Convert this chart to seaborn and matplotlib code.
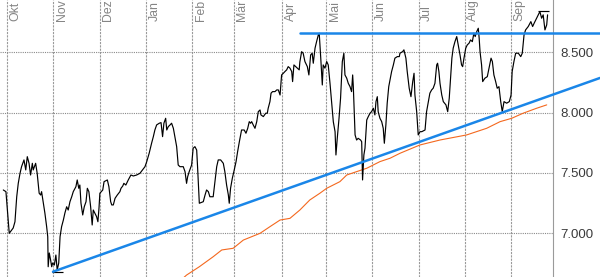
import matplotlib
matplotlib.use("Agg")
import matplotlib.pyplot as plt
import seaborn as sns
import pandas as pd

# ---------------- data (trading-day index since 1 Oct, index level) ----------------
day = [-1.8, -0.6, 0.9, 2.7, 3.5, 4.3, 5.0, 5.8, 6.5, 7.6, 8.4, 9.1, 9.9, 10.6, 11.4, 11.8,
       12.9, 13.6, 14.5, 15.2, 15.6, 16.4, 17.1, 17.9, 18.4, 18.6, 19.1, 19.7, 20.2, 20.6,
       21.4, 22.1, 22.7, 23.4, 24.0, 24.7, 25.5, 26.2, 27.0, 27.7, 28.5, 29.3, 30.0, 31.2,
       31.8, 32.5, 33.0, 33.5, 34.3, 35.0, 35.8, 36.4, 37.1, 37.9, 38.6, 39.1, 40.6, 41.2,
       41.7, 42.1,
       43.4, 44.0, 45.5, 46.2, 47.0, 47.5, 48.2, 49.0, 50.0, 51.2, 51.7, 52.5, 53.0, 53.9,
       55.0, 56.2, 57.3, 58.8, 60.3, 61.5, 62.6, 63.4, 64.5, 65.6, 66.4, 67.1, 67.9, 69.1,
       69.9, 70.6, 71.2, 72.0, 72.5, 73.2, 74.0, 74.7, 75.5, 76.2, 77.0, 77.7, 78.5, 80.0,
       80.8, 81.5, 82.0, 82.7, 83.8, 84.5, 85.3, 86.1, 86.5, 87.3,
       89.1, 89.9, 90.6, 91.4, 92.1, 93.6, 94.4, 95.2, 95.9, 97.0, 98.2, 98.9, 99.7, 100.5,
       100.9, 101.5, 102.3, 103.0, 104.0, 104.7, 105.5, 106.1, 106.5, 107.7, 108.5, 109.3,
       110.0, 110.6, 111.1, 111.8, 112.6, 113.4, 114.1, 114.9, 115.3, 116.4, 117.5, 118.2,
       118.6, 119.4, 119.9, 120.6, 121.7, 122.5, 123.2, 124.0, 124.7, 125.5, 126.2, 127.0,
       127.7, 128.5, 129.3, 129.7, 130.3, 131.1, 131.8, 132.7,
       133.0, 133.8, 134.5, 135.3, 136.4, 137.1, 137.9, 138.6, 139.1, 139.9, 140.6, 141.4,
       141.8, 142.5, 143.2, 143.6, 144.4, 145.2, 145.9, 146.7, 147.5, 148.2, 149.0, 149.4,
       150.0, 150.8, 151.5, 152.3, 153.0, 153.5, 154.3, 155.0, 155.8, 156.5, 157.0, 157.3,
       158.1, 158.8, 159.5, 160.6, 161.1, 161.5, 162.1, 162.6, 163.4, 164.1, 164.9, 165.6,
       166.4, 167.1, 167.6, 168.2, 168.6, 169.4, 170.2, 170.9, 171.4, 172.1, 172.7, 173.4,
       174.0, 174.7, 175.5, 176.2, 177.3, 178.2,
       178.5, 179.7, 180.3, 181.2, 181.8, 182.7, 183.5, 184.3, 184.9, 185.3, 186.1, 186.8,
       187.6, 188.4, 189.9, 190.6, 191.4, 192.1, 192.9, 193.6, 194.4, 195.2, 195.6, 196.2,
       196.7, 197.5, 198.2, 199.4, 200.2, 200.9, 201.5, 202.1, 202.7, 203.5, 204.3, 205.0,
       205.8, 206.5, 207.0, 207.6, 208.4, 209.1, 209.9, 210.6, 211.4, 212.1, 212.7, 213.4,
       214.1, 214.5, 214.9,
       215.6, 216.1, 217.1, 218.2, 219.1, 219.9, 220.5, 221.2, 222.0, 222.7, 223.5, 224.3,
       225.0, 225.8, 227.0, 228.2, 229.0, 229.5, 230.3, 231.1, 232.3, 233.4, 234.1, 234.9,
       235.6, 236.8, 238.0, 238.8, 239.5, 240.6, 242.1, 242.9, 243.6, 244.4, 245.2, 245.6]

close = [7359, 7345, 7000, 7044, 7096, 7303, 7414, 7497, 7552, 7608, 7525, 7635, 7580, 7483, 7580, 7525,
         7580, 7497, 7332, 7317, 7345, 7251, 7168, 7055, 6972, 6723, 6837, 6779, 6723, 6754,
         6737, 6820, 6696, 6754, 6972, 7055, 7110, 7168, 7220, 7193, 7262, 7303, 7345, 7386,
         7442, 7373, 7400, 7251, 7152, 7220, 7262, 7373, 7345, 7220, 7069, 7193, 7138, 7096,
         7210, 7332,
         7359, 7428, 7442, 7386, 7262, 7235, 7235, 7290, 7317, 7345, 7373, 7392, 7414, 7400,
         7442, 7483, 7475, 7483, 7497, 7525, 7552, 7594, 7663, 7746, 7801, 7856, 7898, 7912,
         7917, 7801, 7912, 7953, 7856, 7884, 7898, 7912, 7870, 7801, 7718, 7566, 7552, 7552,
         7511, 7414, 7469, 7511, 7566, 7705, 7718, 7690, 7552, 7249,
         7262, 7317, 7359, 7345, 7303, 7303, 7428, 7552, 7608, 7608, 7580, 7511, 7400, 7317,
         7249, 7373, 7456, 7511, 7594, 7676, 7759, 7815, 7856, 7856, 7829, 7870,
         7925, 7912, 7925, 7898, 7870, 7925, 8008, 8022, 7981, 7967, 7995, 7995,
         8036, 8091, 8161, 8174, 8174, 8188, 8188, 8146, 8312, 8326, 8340, 8354,
         8381, 8368, 8340, 8257, 8395, 8381, 8368, 8354,
         8420, 8505, 8492, 8423, 8381, 8312, 8478, 8492, 8409, 8534, 8588, 8644,
         8658, 8451, 8229, 8395, 8368, 8423, 8395, 8243, 8078, 7925, 7842, 7649,
         7787, 7953, 8119, 8423, 8492, 8312, 8285, 8243, 8215, 8174, 8312, 8215,
         7815, 7773, 7787, 7773, 7759, 7442, 7649, 7705, 7939, 7967, 7995, 8008,
         8036, 7981, 8091, 8132, 8008, 7953, 7925, 7870, 7746, 7898, 8078, 8215,
         8271, 8340, 8395, 8451, 8464, 8464,
         8492, 8505, 8520, 8451, 8340, 8202, 8132, 8257, 8326, 8146, 8008, 7815,
         7842, 7842, 7856, 8008, 8091, 8161, 8188, 8202, 8243, 8395, 8409, 8340,
         8243, 8146, 8091, 8064, 8008, 8119, 8285, 8451, 8534, 8588, 8630, 8561,
         8478, 8395, 8381, 8451, 8534, 8561, 8575, 8602, 8588, 8658, 8630, 8671,
         8699, 8617, 8505,
         8395, 8257, 8285, 8298, 8381, 8451, 8423, 8312, 8257, 8202, 8215, 8091,
         8008, 8091, 8078, 8091, 8146, 8340, 8423, 8492, 8492, 8464, 8492, 8644,
         8685, 8713, 8754, 8713, 8741, 8782, 8837, 8782, 8810, 8685, 8727, 8810]

ma_day = [78.5, 81.5, 87.3, 93.6, 97.5, 102.7, 107.3, 114.9, 119.4, 124.0, 128.5, 133.0,
          137.5, 142.1, 145.2, 151.2, 154.3, 158.8, 163.4, 169.4, 174.0, 178.5, 187.6,
          196.7, 208.8, 217.9, 224.0, 229.3, 234.5, 240.6, 245.2]
ma_val = [6605, 6654, 6723, 6806, 6862, 6876, 6944, 7000, 7055, 7110, 7124, 7193,
          7276, 7332, 7373, 7428, 7483, 7511, 7539, 7594, 7622, 7663, 7732,
          7773, 7815, 7870, 7925, 7953, 7995, 8036, 8064]

trend_day = [20.8, 269.4]
trend_val = [6682, 8287]
resist_day = [133.2, 269.4]
resist_val = [8663, 8663]

extreme_start = [20.2, 241.3]
extreme_end = [25.5, 246.2]
extreme_val = [6677, 8839]

month_pos = [0, 21, 42, 63, 84, 103, 125, 145, 166, 187, 208, 229]
month_lbl = ["Okt", "Nov", "Dez", "Jan", "Feb", "Mär", "Apr", "Mai", "Jun", "Jul", "Aug", "Sep"]
ytick_vals = [7000, 7500, 8000, 8500]
ytick_lbl = ["7.000", "7.500", "8.000", "8.500"]

# ---------------- plotting ----------------
sns.set_style("white")
plt.rcParams["font.family"] = ["Liberation Sans", "DejaVu Sans"]

fig = plt.figure(figsize=(6.0, 2.77), dpi=100)
ax = fig.add_axes([0, 0, 553.3 / 600, 1])

df = pd.DataFrame({"day": day, "close": close})
dm = pd.DataFrame({"day": ma_day, "ma": ma_val})

sns.lineplot(data=dm, x="day", y="ma", ax=ax, color="#f4681e", lw=0.8,
             estimator=None, sort=False, zorder=3)
sns.lineplot(data=df, x="day", y="close", ax=ax, color="black", lw=0.85,
             estimator=None, sort=False, zorder=4)
ax.hlines(extreme_val, extreme_start, extreme_end, color="black", lw=0.85, zorder=4)
sns.lineplot(x=trend_day, y=trend_val, ax=ax, color="#1a86e8", lw=1.8,
             estimator=None, sort=False, zorder=5, clip_on=False)
sns.lineplot(x=resist_day, y=resist_val, ax=ax, color="#1a86e8", lw=1.8,
             estimator=None, sort=False, zorder=5, clip_on=False)

ax.set_xlim(-3.3, 248.2)
ax.set_ylim(6638, 8933)

ax.set_xticks(month_pos)
ax.set_xticklabels([])
ax.set_yticks(ytick_vals)
ax.set_yticklabels(ytick_lbl)
ax.yaxis.tick_right()
ax.tick_params(axis="y", length=0, pad=4.8, labelsize=9.5, labelcolor="#3a3a3a")
ax.tick_params(axis="x", length=0)
ax.set_xlabel("")
ax.set_ylabel("")

ax.grid(axis="y", color="#8a8a8a", lw=0.8, ls=(0, (1, 1)))
ax.grid(axis="x", color="#9a9a9a", lw=0.8, ls=(0, (2, 1)))
ax.set_axisbelow(True)

for s in ["left", "top", "bottom"]:
    ax.spines[s].set_visible(False)
ax.spines["right"].set_color("#9a9a9a")
ax.spines["right"].set_linewidth(0.8)

for p, lab in zip(month_pos, month_lbl):
    ax.annotate(lab, xy=(p, 1), xycoords=("data", "axes fraction"),
                xytext=(2.5, -21), textcoords="offset pixels",
                rotation=90, ha="left", va="bottom", fontsize=8.8, color="#858585")

fig.savefig("out.png", dpi=100)
